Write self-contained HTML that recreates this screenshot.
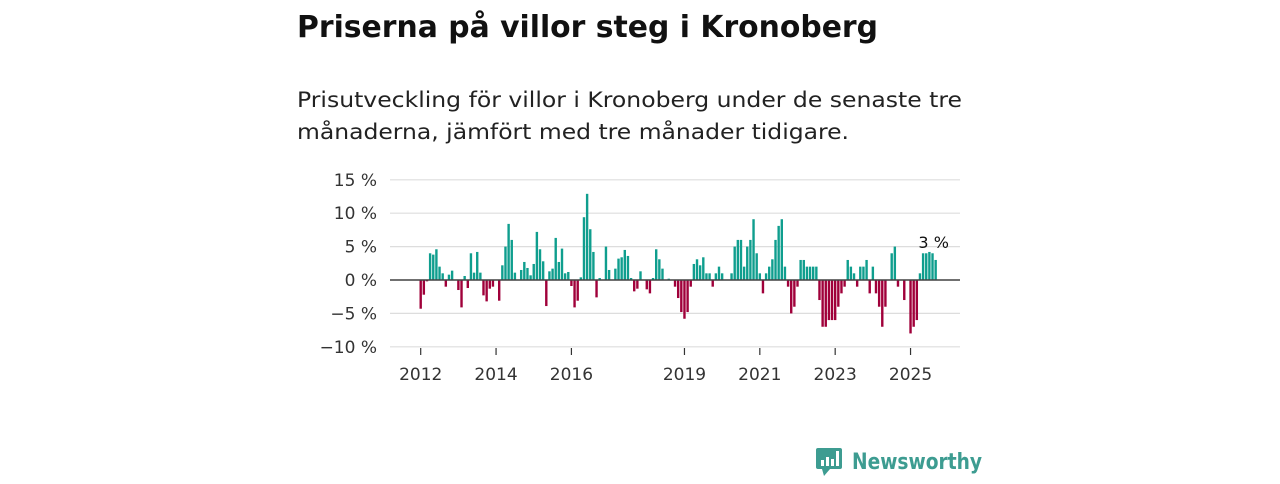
<!DOCTYPE html>
<html><head><meta charset="utf-8">
<style>
body{margin:0;background:#fff;width:1280px;height:480px;overflow:hidden;font-family:"DejaVu Sans","Liberation Sans",sans-serif;}
</style></head>
<body>
<svg id="chart" width="1280" height="480" xmlns="http://www.w3.org/2000/svg">
<text x="297" y="37" font-size="30" font-weight="bold" fill="#111" font-family="DejaVu Sans, sans-serif" textLength="581" lengthAdjust="spacingAndGlyphs">Priserna på villor steg i Kronoberg</text>
<text x="297" y="107" font-size="21" fill="#222" textLength="665" lengthAdjust="spacingAndGlyphs">Prisutveckling för villor i Kronoberg under de senaste tre</text>
<text x="297" y="139" font-size="21" fill="#222" textLength="552" lengthAdjust="spacingAndGlyphs">månaderna, jämfört med tre månader tidigare.</text>
<g id="grid"></g><g id="bars"></g><g id="axes"></g>
<g>
<rect x="816" y="448" width="26" height="21" rx="2" fill="#3d9c91"/>
<polygon points="822,469 830,469 824,476" fill="#3d9c91"/>
<rect x="821" y="460" width="3" height="6" fill="#fff"/><rect x="826" y="457" width="3" height="9" fill="#fff"/><rect x="831" y="459" width="3" height="7" fill="#fff"/><rect x="836" y="451" width="3" height="15" fill="#fff"/>
<text x="852" y="469" font-size="22" font-weight="bold" fill="#3d9c91" textLength="130" lengthAdjust="spacingAndGlyphs">Newsworthy</text>
</g>
</svg>
<script>
const values=[-4.3,-2.2,-0.2,4.0,3.8,4.6,2.0,1.0,-1.0,0.8,1.4,0,-1.5,-4.1,0.6,-1.2,4.0,1.1,4.2,1.1,-2.3,-3.2,-1.3,-1.0,0,-3.1,2.2,5.0,8.4,6.0,1.1,0,1.5,2.7,1.8,0.7,2.4,7.2,4.6,2.8,-3.9,1.3,1.7,6.3,2.7,4.7,1.0,1.2,-0.9,-4.1,-3.1,0.4,9.4,12.9,
7.6,4.2,-2.6,0.3,0,5.0,1.5,0,1.7,3.2,3.4,4.5,3.6,0.3,-1.7,-1.3,1.3,0,-1.4,-2.0,0.3,4.6,3.1,1.7,0,0.2,0,-1.0,-2.7,-4.8,-5.8,-4.8,-1.0,2.4,3.1,2.2,3.4,1.0,1.0,-1.0,1.0,2.0,1.0,0,0,1.0,5.0,6.0,6.0,2.0,5.0,6.0,9.1,4.0,1.0,-2.0,1.0,2.0,3.1,6.0,8.1,9.1,
2.0,-1.0,-5.0,-4.0,-1.0,3.0,3.0,2.0,2.0,2.0,2.0,-3.0,-7.0,-7.0,-6.0,-6.0,-6.0,-4.0,-2.0,-1.0,3.0,2.0,1.0,-1.0,2.0,2.0,3.0,-2.0,2.0,-2.0,-4.0,-7.0,-4.0,0,4.0,5.0,-1.0,0,-3.0,0,-8.0,-7.0,-6.0,1.0,4.0,4.0,4.2,4.0,3.0];
const yTicks=[15,10,5,0,-5,-10];
const yTickLabels=["15 %","10 %","5 %","0 %","−5 %","−10 %"];
const xTickYears=[2012,2014,2016,2019,2021,2023,2025];
const startYear=2012;
const lastLabel="3 %";
const NS="http://www.w3.org/2000/svg";
const y=v=>280-v*6.68;
const x=i=>420.7+i*3.14;
function mk(t,a,p){const e=document.createElementNS(NS,t);for(const k in a)e.setAttribute(k,a[k]);p.appendChild(e);return e;}
const grid=document.getElementById('grid'),bars=document.getElementById('bars'),axes=document.getElementById('axes');
yTicks.forEach((v,k)=>{
 const l=mk('line',{x1:390,x2:960,y1:y(v),y2:y(v),stroke:'#ddd','stroke-width':1.2},grid);
 
 
 const t=mk('text',{x:377,y:y(v)+6,'text-anchor':'end','font-size':17,fill:'#333'},axes);
 t.textContent=yTickLabels[k];
 
 
});
values.forEach((v,i)=>{
 const r=mk('rect',{x:x(i)-1.2,width:2.4,y:Math.min(y(v),y(0)),height:Math.abs(y(v)-y(0)),fill:v>=0?'#0f9e8e':'#a0003a'},bars);
 
 
});
const z=mk('line',{x1:390,x2:960,y1:y(0),y2:y(0),stroke:'#444','stroke-width':1.6},axes);


xTickYears.forEach(yr=>{
 const xi=x((yr-startYear)*12);
 const tk=mk('line',{x1:xi,x2:xi,y1:348,y2:355,stroke:'#333','stroke-width':1.2},axes);
 
 
 const t=mk('text',{x:xi,y:380,'text-anchor':'middle','font-size':17,fill:'#333'},axes);
 t.textContent=yr;
 
 
});
const li=values.length-1;
const lt=mk('text',{x:x(li)-2,y:y(values[li])-12,'text-anchor':'middle','font-size':16,fill:'#111'},axes);
lt.textContent=lastLabel;


</script>
</body></html>
